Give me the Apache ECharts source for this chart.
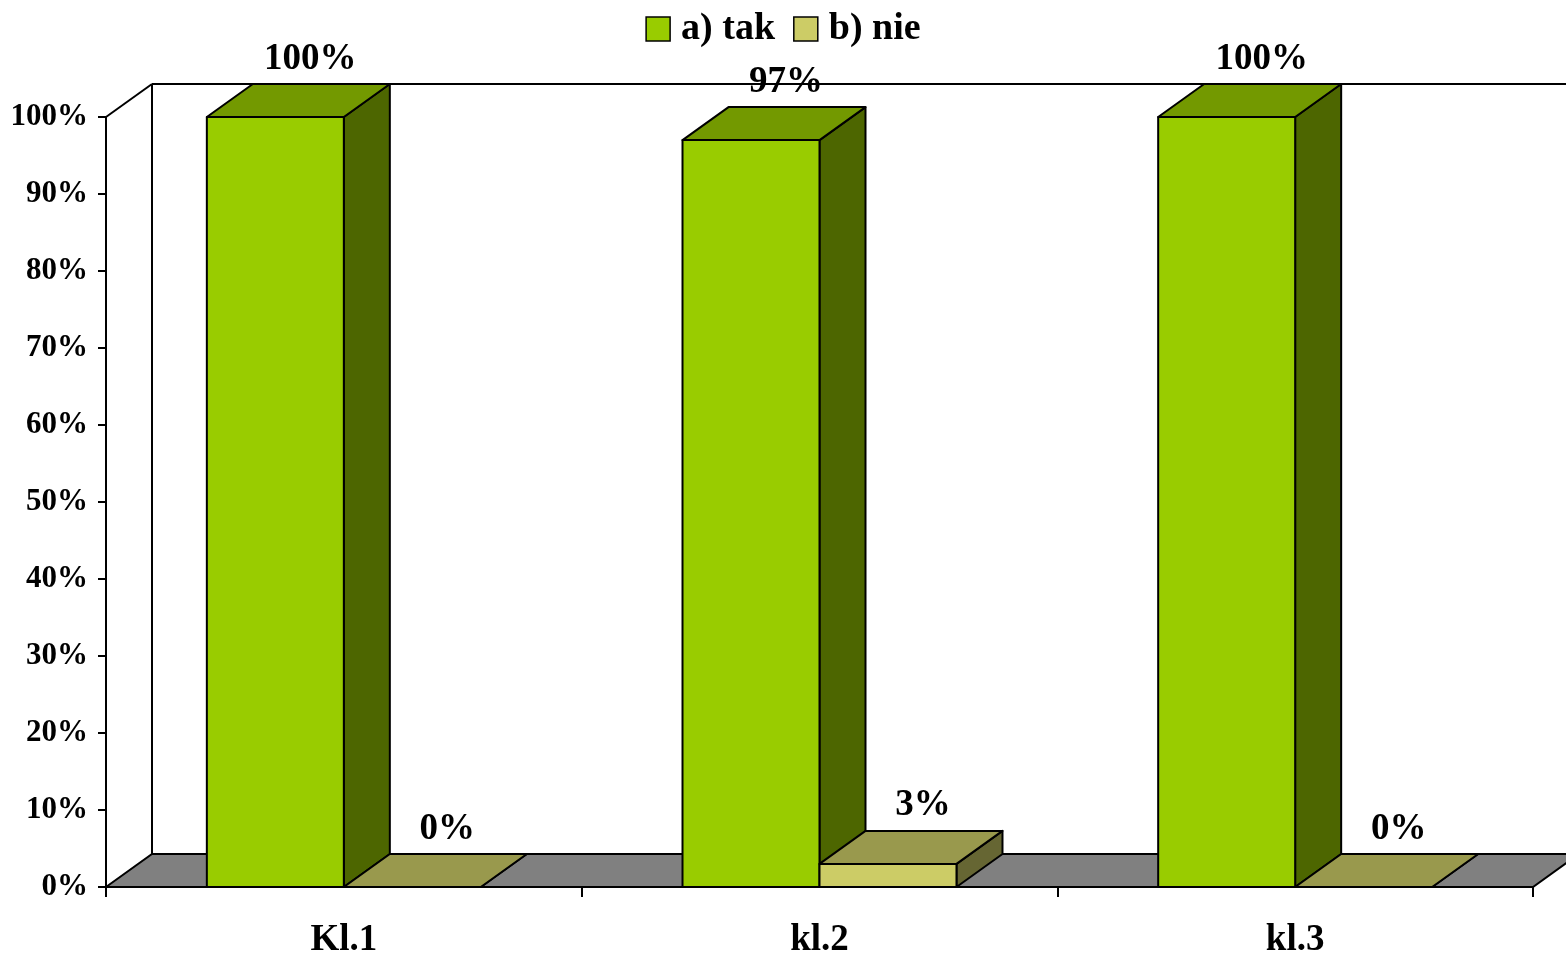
<!DOCTYPE html>
<html>
<head>
<meta charset="utf-8">
<script src="https://cdn.jsdelivr.net/npm/echarts@6/dist/echarts.min.js"></script>
<style>
html,body{margin:0;padding:0;background:#fff;}
#chart{width:1566px;height:958px;}
</style>
</head>
<body>
<div id="chart"></div>
<script>
// ---- data ----
var categories = ['Kl.1', 'kl.2', 'kl.3'];
var seriesNames = ['a) tak', 'b) nie'];
var takValues = [100, 97, 100];
var nieValues = [0, 3, 0];
var yTicks = [0, 10, 20, 30, 40, 50, 60, 70, 80, 90, 100];

// ---- style constants ----
var DX = 46, DY = -33;          // 3D depth offset
var BAR_FRAC = 0.288;           // bar width as fraction of category band
var FONT = '"Liberation Serif", "Times New Roman", serif';
var palette = [
  {front: '#99CC00', top: '#739900', side: '#4D6600'},
  {front: '#CCCC66', top: '#99994D', side: '#666633'}
];

var chart = echarts.init(document.getElementById('chart'), null, {renderer: 'canvas'});

function barRenderer(idx) {
  var c = palette[idx];
  return function (params, api) {
    var cat = api.value(0), val = api.value(1);
    var base = api.coord([cat, 0]);
    var top = api.coord([cat, val]);
    var bw = api.size([1, 0])[0] * BAR_FRAC;
    var x0 = idx === 0 ? base[0] - bw : base[0];
    var x1 = x0 + bw;
    var ty = top[1], by = base[1];
    var ls = {stroke: '#000', lineWidth: 2, lineJoin: 'round'};
    return {
      type: 'group',
      children: [
        {type: 'polygon', shape: {points: [[x1, ty], [x1 + DX, ty + DY], [x1 + DX, by + DY], [x1, by]]},
          style: Object.assign({fill: c.side}, ls)},
        {type: 'rect', shape: {x: x0, y: ty, width: bw, height: by - ty},
          style: Object.assign({fill: c.front}, ls)},
        {type: 'polygon', shape: {points: [[x0, ty], [x1, ty], [x1 + DX, ty + DY], [x0 + DX, ty + DY]]},
          style: Object.assign({fill: c.top}, ls)},
        {type: 'text', z2: 100, style: {
          text: val + '%', x: (x0 + x1) / 2 + 35, y: ty + DY - 25,
          align: 'center', verticalAlign: 'middle',
          fontFamily: FONT, fontWeight: 'bold', fontSize: 37, fill: '#000'}}
      ]
    };
  };
}

function wallRenderer(params, api) {
  var cs = params.coordSys;
  var x = cs.x, y = cs.y, w = cs.width, h = cs.height;
  var ls = {stroke: '#000', lineWidth: 2};
  return {
    type: 'group',
    children: [
      {type: 'polygon', shape: {points: [[x, y + h], [x + DX, y + h + DY], [x + w + DX, y + h + DY], [x + w, y + h]]},
        style: Object.assign({fill: '#808080'}, ls)},
      {type: 'line', shape: {x1: x + DX, y1: y + DY, x2: x + w + DX, y2: y + DY}, style: ls},
      {type: 'line', shape: {x1: x + DX, y1: y + DY, x2: x + DX, y2: y + h + DY}, style: ls},
      {type: 'line', shape: {x1: x, y1: y, x2: x + DX, y2: y + DY}, style: ls}
    ]
  };
}

var option = {
  backgroundColor: '#fff',
  animation: false,
  legend: {
    data: seriesNames,
    left: 'center',
    top: 5,
    icon: 'rect',
    itemWidth: 24,
    itemHeight: 24,
    itemGap: 18,
    itemStyle: {borderColor: '#000', borderWidth: 1.5},
    textStyle: {fontFamily: FONT, fontWeight: 'bold', fontSize: 38, color: '#000', padding: [0, 0, 0, 6]}
  },
  grid: {left: 106, right: 33, top: 117, bottom: 71, containLabel: false, outerBoundsMode: 'none'},
  xAxis: {
    type: 'category',
    data: categories,
    axisLine: {lineStyle: {color: '#000', width: 2}},
    axisTick: {show: true, length: 10, lineStyle: {color: '#000', width: 2}},
    axisLabel: {margin: 35, color: '#000', fontFamily: FONT, fontWeight: 'bold', fontSize: 37}
  },
  yAxis: {
    type: 'value',
    min: yTicks[0],
    max: yTicks[yTicks.length - 1],
    interval: yTicks[1] - yTicks[0],
    splitLine: {show: false},
    axisLine: {show: true, lineStyle: {color: '#000', width: 2}},
    axisTick: {show: true, length: 8, lineStyle: {color: '#000', width: 2}},
    axisLabel: {margin: 18, color: '#000', fontFamily: FONT, fontWeight: 'bold', fontSize: 31, formatter: '{value}%'}
  },
  series: [
    {type: 'custom', name: 'walls', renderItem: wallRenderer, data: [[0, 0]], z: 1, silent: true},
    {type: 'custom', name: seriesNames[0], renderItem: barRenderer(0), z: 2,
      itemStyle: {color: palette[0].front},
      data: takValues.map(function (v, i) { return [i, v]; })},
    {type: 'custom', name: seriesNames[1], renderItem: barRenderer(1), z: 3,
      itemStyle: {color: palette[1].front},
      data: nieValues.map(function (v, i) { return [i, v]; })}
  ]
};
chart.setOption(option);
</script>
</body>
</html>
